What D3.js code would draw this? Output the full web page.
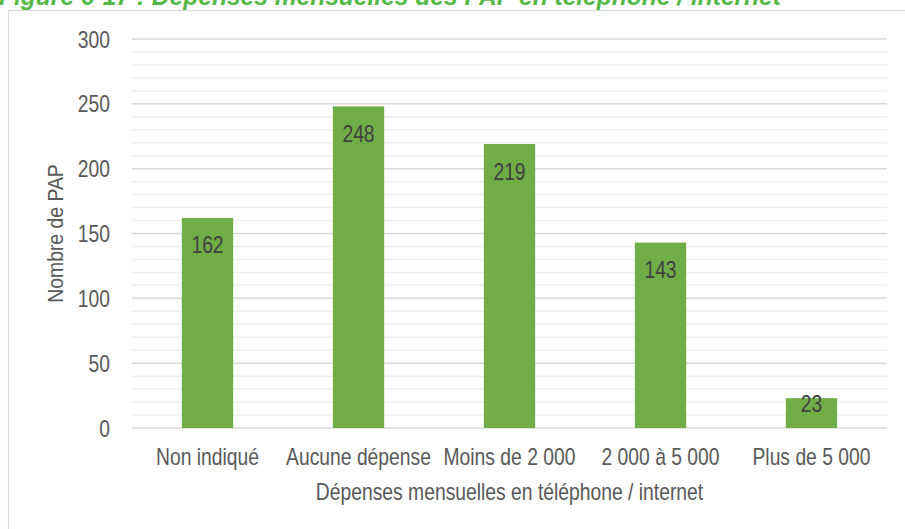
<!DOCTYPE html>
<html>
<head>
<meta charset="utf-8">
<script src="https://cdn.jsdelivr.net/npm/d3@7"></script>
<style>
  html, body { margin: 0; padding: 0; background: #fff; overflow: hidden; }
  svg { display: block; }
  text { font-family: "Liberation Sans", Arial, sans-serif; }
</style>
</head>
<body>
<svg id="chart" width="905" height="529"></svg>
<script>
// Dépenses mensuelles des PAP en téléphone / internet
const categories = ["Non indiqué", "Aucune dépense", "Moins de 2 000", "2 000 à 5 000", "Plus de 5 000"];
const values = [162, 248, 219, 143, 23];
const yTicks = [0, 50, 100, 150, 200, 250, 300];
const yMinorTicks = d3.range(0, 301, 10);

const titleText = "Figure 6-17 : Dépenses mensuelles des PAP en téléphone / internet";
const xTitle = "Dépenses mensuelles en téléphone / internet";
const yTitle = "Nombre de PAP";

const W = 905, H = 529;
const margin = { top: 39, right: 18, bottom: 101, left: 132 };
const SX = 0.84;          // horizontal condensing of the narrow text face
const FS = 23;            // text size for axes and labels

const svg = d3.select("#chart");

// outer chart frame
svg.append("rect")
  .attr("x", 8.5).attr("y", 10.5)
  .attr("width", 1000).attr("height", 1000)
  .attr("fill", "#fff")
  .attr("stroke", "#d9d9d9").attr("stroke-width", 1.2);

// title (its upper part runs off the top of the page)
svg.append("text")
  .attr("transform", "translate(-1,4.5) scale(0.945,1)")
  .attr("font-size", 26)
  .attr("font-weight", "bold")
  .attr("font-style", "italic")
  .attr("fill", "#55b948")
  .text(titleText);

const x = d3.scaleBand()
  .domain(categories)
  .range([margin.left, W - margin.right])
  .paddingInner(0.66)
  .paddingOuter(0.33);

const y = d3.scaleLinear()
  .domain([0, 300])
  .range([H - margin.bottom, margin.top]);

const g = svg.append("g");

// minor gridlines
g.append("g").selectAll("line")
  .data(yMinorTicks.filter(v => v % 50 !== 0))
  .join("line")
  .attr("x1", margin.left).attr("x2", W - margin.right)
  .attr("y1", d => y(d)).attr("y2", d => y(d))
  .attr("stroke", "#f0f0f0").attr("stroke-width", 1.5);

// major gridlines
g.append("g").selectAll("line")
  .data(yTicks)
  .join("line")
  .attr("x1", margin.left).attr("x2", W - margin.right)
  .attr("y1", d => y(d)).attr("y2", d => y(d))
  .attr("stroke", "#d9d9d9").attr("stroke-width", 1.5);

// bars
g.append("g").selectAll("rect")
  .data(values)
  .join("rect")
  .attr("x", (d, i) => x(categories[i]))
  .attr("width", x.bandwidth())
  .attr("y", d => y(d))
  .attr("height", d => y(0) - y(d))
  .attr("fill", "#70ad47");

// value labels inside the bar top
g.append("g").selectAll("text")
  .data(values)
  .join("text")
  .attr("transform", (d, i) => {
    const h = y(0) - y(d);
    const cx = x(categories[i]) + x.bandwidth() / 2;
    const by = y(d) + Math.min(35.5, h * 0.47);
    return `translate(${cx},${by}) scale(${SX},1)`;
  })
  .attr("text-anchor", "middle")
  .attr("font-size", FS)
  .attr("fill", "#404040")
  .text(d => d);

// y axis
const yAxis = svg.append("g")
  .attr("transform", `translate(${margin.left},0)`)
  .call(d3.axisLeft(y).tickValues(yTicks).tickSize(0).tickPadding(0));
yAxis.select(".domain").remove();
yAxis.selectAll("text")
  .attr("font-family", null)
  .attr("font-size", FS)
  .attr("fill", "#595959")
  .attr("x", -22 / SX)
  .attr("dy", "0.35em")
  .attr("transform", `scale(${SX},1)`);

// x axis
const xAxis = svg.append("g")
  .attr("transform", `translate(0,${y(0)})`)
  .call(d3.axisBottom(x).tickSize(0).tickPadding(0));
xAxis.select(".domain").remove();
xAxis.selectAll("text")
  .attr("font-family", null)
  .attr("font-size", FS)
  .attr("fill", "#595959")
  .attr("x", 0)
  .attr("y", 37)
  .attr("dy", 0)
  .attr("transform", `scale(${SX},1)`);

// axis titles
svg.append("text")
  .attr("transform", `translate(${(margin.left + W - margin.right) / 2},500) scale(${SX},1)`)
  .attr("text-anchor", "middle")
  .attr("font-size", FS)
  .attr("fill", "#595959")
  .text(xTitle);

svg.append("text")
  .attr("transform", `translate(63,${(y(0) + y(300)) / 2}) rotate(-90) scale(0.88,1)`)
  .attr("text-anchor", "middle")
  .attr("font-size", 22)
  .attr("fill", "#595959")
  .text(yTitle);
</script>
</body>
</html>
